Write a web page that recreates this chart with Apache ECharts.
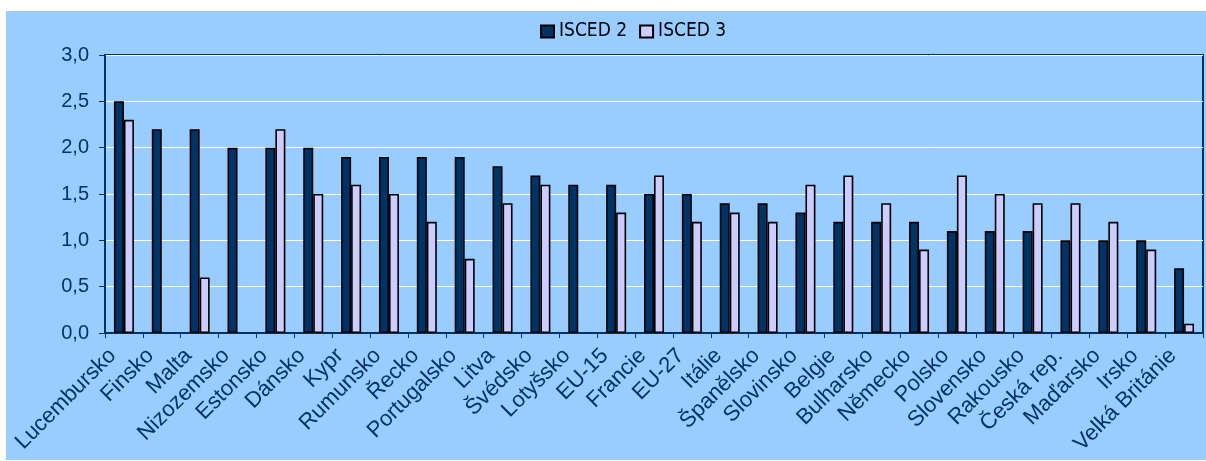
<!DOCTYPE html>
<html>
<head>
<meta charset="utf-8">
<script src="https://cdn.jsdelivr.net/npm/echarts@6/dist/echarts.min.js"></script>
<style>
    html, body {
        margin: 0;
        padding: 0;
        background: white;
    }

    #chart {
        position: absolute;
        left: 6px;
        top: 11px;
        width: 1200px;
        height: 449px;
    }
</style>
</head>
<body>
<div id="chart"></div>
<script>
    // země
    const countries = ['Lucembursko', 'Finsko', 'Malta', 'Nizozemsko', 'Estonsko', 'Dánsko', 'Kypr', 'Rumunsko',
        'Řecko', 'Portugalsko', 'Litva', 'Švédsko', 'Lotyšsko', 'EU-15', 'Francie', 'EU-27', 'Itálie',
        'Španělsko', 'Slovinsko', 'Belgie', 'Bulharsko', 'Německo', 'Polsko', 'Slovensko', 'Rakousko',
        'Česká rep.', 'Maďarsko', 'Irsko', 'Velká Británie']
    const isced2 = [2.5, 2.2, 2.2, 2.0, 2.0, 2.0, 1.9, 1.9, 1.9, 1.9, 1.8, 1.7, 1.6, 1.6, 1.5, 1.5, 1.4,
        1.4, 1.3, 1.2, 1.2, 1.2, 1.1, 1.1, 1.1, 1.0, 1.0, 1.0, 0.7]
    // null = chybí hodnota
    const isced3 = [2.3, null, 0.6, null, 2.2, 1.5, 1.6, 1.5, 1.2, 0.8, 1.4, 1.6, null, 1.3, 1.7, 1.2, 1.3,
        1.2, 1.6, 1.7, 1.4, 0.9, 1.7, 1.5, 1.4, 1.4, 1.2, 0.9, 0.1]
    const seriesNames = ['ISCED 2', 'ISCED 3']

    const navy = '#003366'
    const font = '"Liberation Sans", Arial, sans-serif'
    const myChart = echarts.init(document.getElementById('chart'))

    const option = {
        backgroundColor: '#99CCFF',
        animation: false,
        legend: {
            data: seriesNames,
            left: 529,
            top: 6,
            itemWidth: 13,
            itemHeight: 12,
            itemGap: 12,
            icon: 'rect',
            textStyle: {
                fontFamily: '"DejaVu Sans Condensed", sans-serif',
                fontSize: 19,
                color: '#000000'
            }
        },
        grid: {
            left: 99,
            right: 3,
            top: 44,
            bottom: 127,
            show: true,
            borderColor: navy,
            borderWidth: 2,
            backgroundColor: 'transparent'
        },
        xAxis: {
            type: 'category',
            data: countries,
            axisLine: {
                lineStyle: {color: navy, width: 2}
            },
            axisTick: {
                show: true,
                length: 5,
                interval: 0,
                lineStyle: {color: navy, width: 1}
            },
            axisLabel: {
                interval: 0,
                rotate: 45,
                fontSize: 22,
                fontFamily: font,
                color: navy,
                margin: 8,
                padding: [0, 16, 0, 0]
            }
        },
        yAxis: {
            type: 'value',
            min: 0,
            max: 3,
            interval: 0.5,
            axisLine: {
                show: true,
                lineStyle: {color: navy, width: 2}
            },
            axisTick: {
                show: true,
                length: 6,
                lineStyle: {color: navy, width: 1}
            },
            splitLine: {
                lineStyle: {color: '#ffffff', width: 1}
            },
            axisLabel: {
                fontSize: 20,
                fontFamily: font,
                color: navy,
                margin: 16,
                formatter: function (v) {
                    return v.toFixed(1).replace('.', ',')
                }
            }
        },
        series: [
            {
                name: seriesNames[0],
                type: 'bar',
                data: isced2,
                barWidth: 10,
                barGap: '0%',
                itemStyle: {
                    color: navy,
                    borderColor: '#000000',
                    borderWidth: 1.6
                }
            },
            {
                name: seriesNames[1],
                type: 'bar',
                data: isced3,
                barWidth: 10,
                barGap: '0%',
                itemStyle: {
                    color: '#CCCCFF',
                    borderColor: '#000000',
                    borderWidth: 1.6
                }
            }
        ]
    }
    myChart.setOption(option)
</script>
</body>
</html>
